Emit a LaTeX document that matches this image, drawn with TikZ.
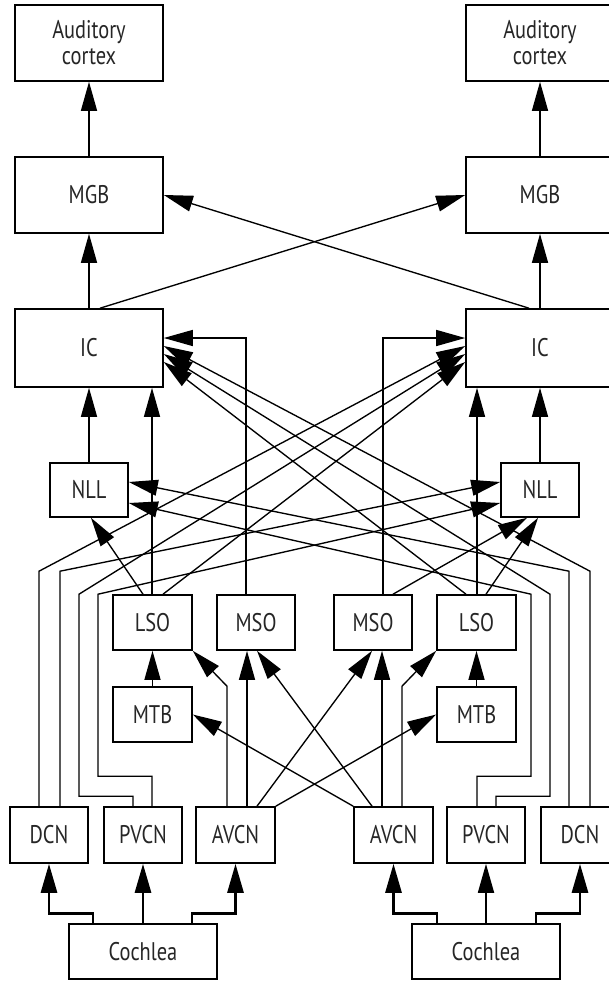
\documentclass[tikz,border=0pt]{standalone}
\usepackage{fontspec}
\setmainfont{PT Sans}[FakeStretch=0.8]
\usetikzlibrary{arrows.meta,calc}
\begin{document}
\begin{tikzpicture}[x=1pt,y=-1pt,
  box/.style={draw, line width=1.6pt, inner sep=0pt, fill=white,
    font=\fontsize{25.5}{26}\selectfont, text=black!85, align=center},
  big/.style={box, minimum width=148pt, minimum height=76pt},
  bigic/.style={box, minimum width=148pt, minimum height=78pt},
  small/.style={box, minimum width=78pt, minimum height=55pt},
  arr/.style={line width=1.35pt, -{Triangle[length=29pt,width=16pt]}},
  thickarr/.style={arr, line width=2.8pt},
  midarr/.style={arr, line width=1.8pt}]
\useasboundingbox (0,0) rectangle (608,985);
% boxes, left
\node[big] (acL) at (89,43) {Auditory\\cortex};
\node[big] (mgbL) at (89,195) {MGB};
\node[bigic] (icL) at (89,348) {IC};
\node[small, minimum height=54pt] (nllL) at (89,490) {NLL};
\node[small, minimum width=79pt] (lsoL) at (152.5,622.5) {LSO};
\node[small] (msoL) at (256,622.5) {MSO};
\node[small, minimum width=79pt] (mtbL) at (152.5,714.5) {MTB};
\node[small, minimum height=56pt] (dcnL) at (49,835) {DCN};
\node[small, minimum height=56pt] (pvcnL) at (143,835) {PVCN};
\node[small, minimum width=79pt, minimum height=56pt] (avcnL) at (235.5,835) {AVCN};
\node[box, minimum width=148pt, minimum height=55pt] (cochL) at (143,951.5) {Cochlea};
% boxes, right
\node[big] (acR) at (540,43) {Auditory\\cortex};
\node[big] (mgbR) at (540,195) {MGB};
\node[bigic] (icR) at (540,348) {IC};
\node[small, minimum height=54pt] (nllR) at (540,490) {NLL};
\node[small, minimum width=79pt] (lsoR) at (476.5,622.5) {LSO};
\node[small] (msoR) at (373,622.5) {MSO};
\node[small, minimum width=79pt] (mtbR) at (476.5,714.5) {MTB};
\node[small, minimum height=56pt] (dcnR) at (580,835) {DCN};
\node[small, minimum height=56pt] (pvcnR) at (486,835) {PVCN};
\node[small, minimum width=79pt, minimum height=56pt] (avcnR) at (393.5,835) {AVCN};
\node[box, minimum width=148pt, minimum height=55pt] (cochR) at (486,951.5) {Cochlea};

% top verticals
\draw[arr] (mgbL.north) -- (acL.south);
\draw[arr] (mgbR.north) -- (acR.south);
\draw[arr] (icL.north) -- (mgbL.south);
\draw[arr] (icR.north) -- (mgbR.south);
\draw[arr] ([xshift=11pt]icL.north) -- (mgbR.west);
\draw[arr] ([xshift=-11pt]icR.north) -- (mgbL.east);
\draw[arr] (nllL.north) -- (icL.south);
\draw[arr] (nllR.north) -- (icR.south);

% LSO
\draw[arr] ([xshift=-0.5pt]lsoL.north) -- ([xshift=-0.5pt]lsoL.north |- icL.south);
\draw[arr] ([xshift=0.5pt]lsoR.north) -- ([xshift=0.5pt]lsoR.north |- icR.south);
\draw[arr] ([xshift=-9.5pt]lsoL.north) -- ([xshift=2pt]nllL.south);
\draw[arr] ([xshift=9.5pt]lsoR.north) -- ([xshift=-2pt]nllR.south);
\draw[arr] ([xshift=10.5pt]lsoL.north) -- ([yshift=-14pt]icR.west);
\draw[arr] ([xshift=-10.5pt]lsoR.north) -- ([yshift=-14pt]icL.east);
% MSO
\draw[arr] ([xshift=-10pt]msoL.north) |- ([yshift=10pt]icL.east);
\draw[arr] ([xshift=10pt]msoR.north) |- ([yshift=10pt]icR.west);
\draw[arr] ([xshift=20pt]msoR.north) -- ([xshift=-13pt]nllR.south);

% DCN
\draw[arr] ([xshift=-10pt]dcnL.north) -- ++(0,-235) -- ([yshift=2pt]icR.west);
\draw[arr] ([xshift=11pt]dcnL.north) -- ++(0,-235) -- ([yshift=8pt]nllR.west);
\draw[arr] ([xshift=10pt]dcnR.north) -- ++(0,-235) -- ([yshift=2pt]icL.east);
\draw[arr] ([xshift=-11pt]dcnR.north) -- ++(0,-235) -- ([yshift=8pt]nllL.east);
% PVCN
\draw[arr] ([xshift=-10pt]pvcnL.north) -- ++(0,-10) -- ++(-54,0) -- ++(0,-202) -- ([yshift=-6pt]icR.west);
\draw[arr] ([xshift=9pt]pvcnL.north) -- ++(0,-30) -- ++(-54,0) -- ++(0,-182) -- ([yshift=-13pt]nllR.west);
\draw[arr] ([xshift=10pt]pvcnR.north) -- ++(0,-10) -- ++(54,0) -- ++(0,-202) -- ([yshift=-6pt]icL.east);
\draw[arr] ([xshift=-9pt]pvcnR.north) -- ++(0,-30) -- ++(54,0) -- ++(0,-182) -- ([yshift=-13pt]nllL.east);

% MTB
\draw[arr] (mtbL.north) -- (lsoL.south);
\draw[arr] (mtbR.north) -- (lsoR.south);

% AVCN
\draw[arr] ([xshift=-8.5pt]avcnL.north) -- ++(0,-120) -- (lsoL.south east);
\draw[arr] ([xshift=11.5pt]avcnL.north) -- ([xshift=-9pt]msoL.south);
\draw[arr] ([xshift=21.5pt]avcnL.north) -- ([xshift=-1pt]msoR.south);
\draw[arr] (avcnL.north east) -- (mtbR.west);
\draw[arr] (avcnR.north west) -- (mtbL.east);
\draw[arr] ([xshift=-21.5pt]avcnR.north) -- ([xshift=1pt]msoL.south);
\draw[arr] ([xshift=-11.5pt]avcnR.north) -- ([xshift=9pt]msoR.south);
\draw[arr] ([xshift=8.5pt]avcnR.north) -- ++(0,-120) -- (lsoR.south west);

% Cochlea
\draw[thickarr] ([xshift=-50pt]cochL.north) -- ++(0,-10) -| (dcnL.south);
\draw[thickarr] (cochL.north) -- (pvcnL.south);
\draw[thickarr] ([xshift=49pt]cochL.north) -- ++(0,-10) -| (avcnL.south);
\draw[thickarr] ([xshift=-49pt]cochR.north) -- ++(0,-10) -| (avcnR.south);
\draw[midarr] (cochR.north) -- (pvcnR.south);
\draw[thickarr] ([xshift=50pt]cochR.north) -- ++(0,-10) -| (dcnR.south);
\end{tikzpicture}
\end{document}
